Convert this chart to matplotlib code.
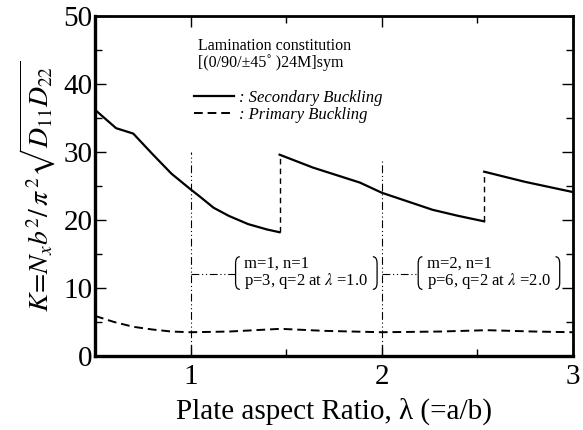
import matplotlib
matplotlib.use("Agg")
import matplotlib.pyplot as plt
from matplotlib.ticker import MultipleLocator
from matplotlib.path import Path
from matplotlib.patches import PathPatch

plt.rcParams['font.family'] = ['Liberation Serif', 'DejaVu Serif']
plt.rcParams['mathtext.fontset'] = 'stix'

# Secondary buckling (three mode branches)
sec1_x = [0.5, 0.61, 0.70, 0.80, 0.90, 1.00, 1.05, 1.12, 1.20, 1.30, 1.40, 1.465]
sec1_y = [36.2, 33.5, 32.7, 29.7, 26.8, 24.5, 23.4, 21.8, 20.6, 19.4, 18.6, 18.2]
sec2_x = [1.465, 1.64, 1.885, 2.0, 2.265, 2.4, 2.535]
sec2_y = [29.6, 27.7, 25.5, 24.0, 21.5, 20.6, 19.8]
sec3_x = [2.535, 2.75, 3.0]
sec3_y = [27.1, 25.6, 24.1]

# Primary buckling
pri_x = [0.5, 0.6, 0.7, 0.8, 0.9, 1.0, 1.2, 1.47, 1.7, 2.0, 2.3, 2.55, 2.8, 3.0]
pri_y = [5.9, 5.0, 4.3, 3.9, 3.6, 3.5, 3.6, 4.0, 3.7, 3.5, 3.6, 3.8, 3.6, 3.5]

# Marked aspect ratios
mark_x = [1.0, 2.0]
mark_top = [30.0, 28.6]
mark_label_y = 12.0
box_x = [1.235, 2.19]
box_right = [1.975, 2.93]
box_low, box_high = 9.8, 14.6
box_text = ["m=1, n=1\np=3, q=2 at $\\lambda$ =1.0",
            "m=2, n=1\np=6, q=2 at $\\lambda$ =2.0"]

fig = plt.figure(figsize=(5.83, 4.30), dpi=100)
ax = fig.add_axes([0.163, 0.172, 0.820, 0.791])

dashes_main = (0, (4.5, 2.5))
dashdot = (0, (7, 2.5, 1, 2.5, 1, 2.5))

l1, = ax.plot(sec1_x, sec1_y, color='black', lw=1.6)
ax.plot(sec2_x, sec2_y, color='black', lw=1.6)
ax.plot(sec3_x, sec3_y, color='black', lw=1.6)
ax.vlines([sec1_x[-1], sec2_x[-1]], [sec1_y[-1], sec2_y[-1]], [sec2_y[0], sec3_y[0]],
          colors='black', lw=1.0, linestyles=[(0, (4, 3))])
l2, = ax.plot(pri_x, pri_y, color='black', lw=1.4, linestyle=dashes_main)


def bracket(x, side):
    # thin bracket with rounded hooks; side=+1 opens right, -1 opens left
    w = 0.022 * side
    r = 1.0
    verts = [(x + w, box_high), (x, box_high), (x, box_high - r),
             (x, box_low + r), (x, box_low), (x + w, box_low)]
    codes = [Path.MOVETO, Path.CURVE3, Path.CURVE3,
             Path.LINETO, Path.CURVE3, Path.CURVE3]
    ax.add_patch(PathPatch(Path(verts, codes), fill=False, lw=0.9, edgecolor='black'))


for mx, mt, bx, br, bt in zip(mark_x, mark_top, box_x, box_right, box_text):
    ax.plot([mx, mx], [0, mt], color='black', lw=0.8, linestyle=dashdot)
    ax.plot([mx, bx], [mark_label_y, mark_label_y], color='black', lw=0.8, linestyle=dashdot)
    bracket(bx, +1)
    bracket(br, -1)
    ax.text(bx + 0.045, (box_low + box_high) / 2, bt, fontsize=12, ha='left', va='center',
            linespacing=0.95)

ax.text(0.216, 0.935, "Lamination constitution\n[(0/90/\u00b145\u02da )24M]sym",
        transform=ax.transAxes, fontsize=11.5, ha='left', va='top', linespacing=1.0)

leg = ax.legend([l1, l2], [": Secondary Buckling", ": Primary Buckling"],
                loc='upper left', bbox_to_anchor=(0.208, 0.783), frameon=False,
                handlelength=2.4, handletextpad=0.3, labelspacing=0.05,
                borderpad=0, borderaxespad=0,
                prop={'family': 'Liberation Serif', 'style': 'italic', 'size': 12})

ax.set_xlim(0.5, 3.0)
ax.set_ylim(0, 50)
ax.xaxis.set_major_locator(MultipleLocator(1))
ax.xaxis.set_minor_locator(MultipleLocator(0.5))
ax.yaxis.set_major_locator(MultipleLocator(10))
ax.yaxis.set_minor_locator(MultipleLocator(5))
ax.tick_params(which='both', direction='in', top=True, right=True, labelsize=21)
ax.tick_params(which='major', length=8, width=1.0)
ax.tick_params(which='minor', length=5, width=1.0)
ax.tick_params(axis='y', pad=2)
ax.tick_params(axis='x', pad=6)
for s in ['left', 'bottom']:
    ax.spines[s].set_linewidth(2.4)
for s in ['top', 'right']:
    ax.spines[s].set_linewidth(2.0)

ax.set_xlabel("Plate aspect Ratio, \u03bb (=a/b)", fontsize=21, labelpad=5)
ax.set_ylabel(r"$K\!=\!N_x b^2/\,\pi^{\,2}\sqrt{D_{11}D_{22}}$", fontsize=20, labelpad=4)

fig.savefig("out.png", dpi=100)
